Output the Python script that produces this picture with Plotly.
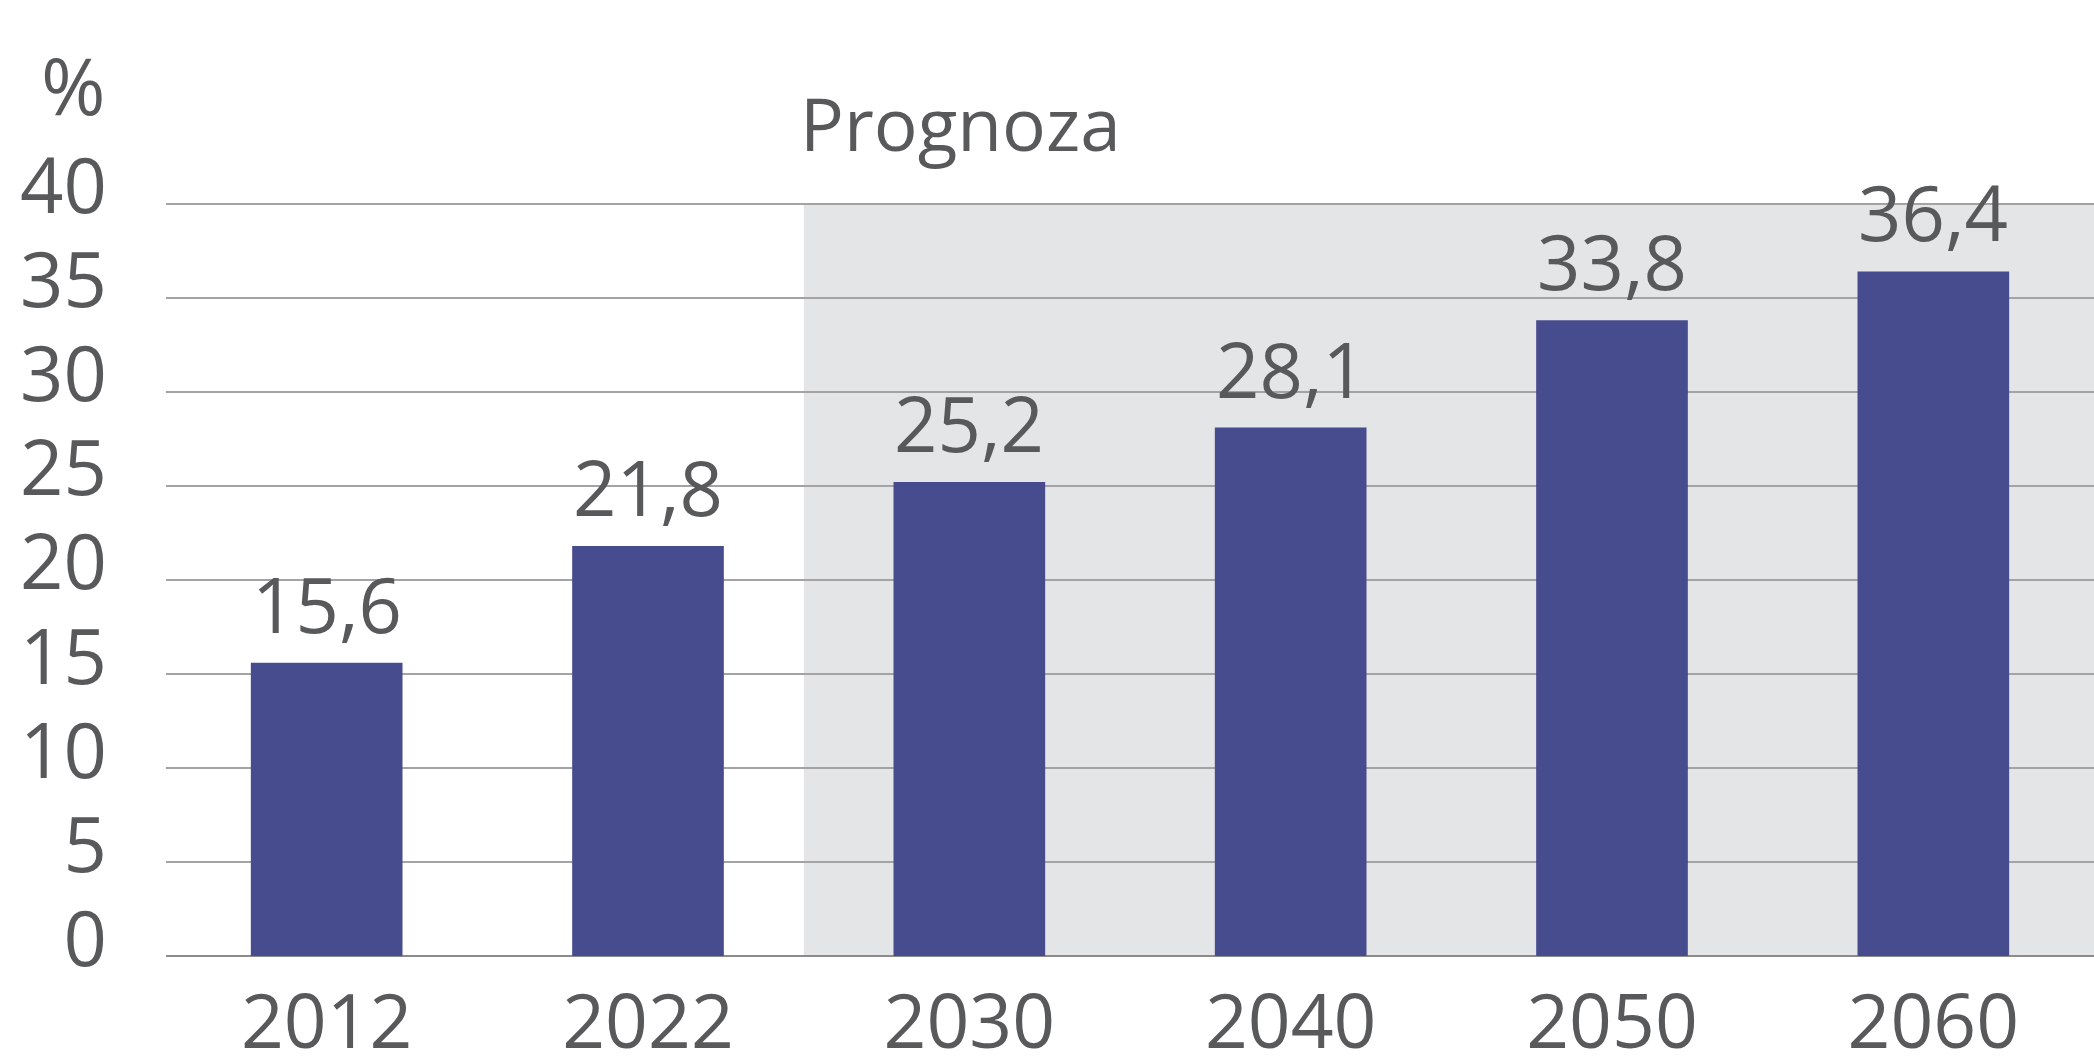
import plotly.graph_objects as go

categories = ["2012", "2022", "2030", "2040", "2050", "2060"]
values = [15.6, 21.8, 25.2, 28.1, 33.8, 36.4]
value_labels = ["15,6", "21,8", "25,2", "28,1", "33,8", "36,4"]
y_ticks = [0, 5, 10, 15, 20, 25, 30, 35, 40]
forecast_label = "Prognoza"
unit_label = "%"

TEXT = "#58595b"
FONT = "Open Sans"

fig = go.Figure()
fig.add_trace(go.Bar(
    x=categories, y=values,
    marker=dict(color="#474c8e", line=dict(width=0)),
    cliponaxis=False, hoverinfo="skip",
))

for i, (v, t) in enumerate(zip(values, value_labels)):
    fig.add_annotation(x=i, y=v, text=t, xref="x", yref="y",
                       xanchor="center", yanchor="bottom", yshift=6,
                       showarrow=False,
                       font=dict(family=FONT, size=76, color=TEXT))

fig.add_shape(type="rect", xref="x", yref="y", x0=1.485, x1=6, y0=0, y1=40,
              fillcolor="#e4e5e7", line=dict(width=0), layer="below")

fig.add_annotation(text=forecast_label, xref="paper", yref="paper",
                   x=0.412, y=1.034, xanchor="center", yanchor="bottom",
                   showarrow=False, font=dict(family=FONT, size=73, color=TEXT))
fig.add_annotation(text=unit_label, xref="paper", yref="paper",
                   x=-0.048, y=1.152, xanchor="center", yanchor="middle",
                   showarrow=False, font=dict(family=FONT, size=78, color=TEXT))

fig.update_layout(
    width=2094, height=1056,
    margin=dict(l=166, r=0, t=200, b=100, autoexpand=False),
    plot_bgcolor="white", paper_bgcolor="white",
    showlegend=False, bargap=0.528,
    font=dict(family=FONT, color=TEXT),
)
fig.update_xaxes(type="category", range=[-0.5, 5.5], showgrid=False,
                 showline=False, ticks="", automargin=False,
                 tickfont=dict(family=FONT, size=75, color=TEXT),
                 ticklabelstandoff=16)
fig.update_yaxes(range=[0, 40.2], tickvals=y_ticks, showgrid=True,
                 automargin=False,
                 gridcolor="#a3a3a3", gridwidth=1.5, zeroline=True,
                 zerolinecolor="#8c8c8c", zerolinewidth=2, showline=False,
                 ticks="", tickfont=dict(family=FONT, size=76, color=TEXT),
                 ticklabelshift=-17, ticklabelstandoff=58)

fig.write_html(
    "out.html",
    config={"displayModeBar": False},
    post_script="document.body.style.margin='0';document.body.style.overflow='hidden';",
)
